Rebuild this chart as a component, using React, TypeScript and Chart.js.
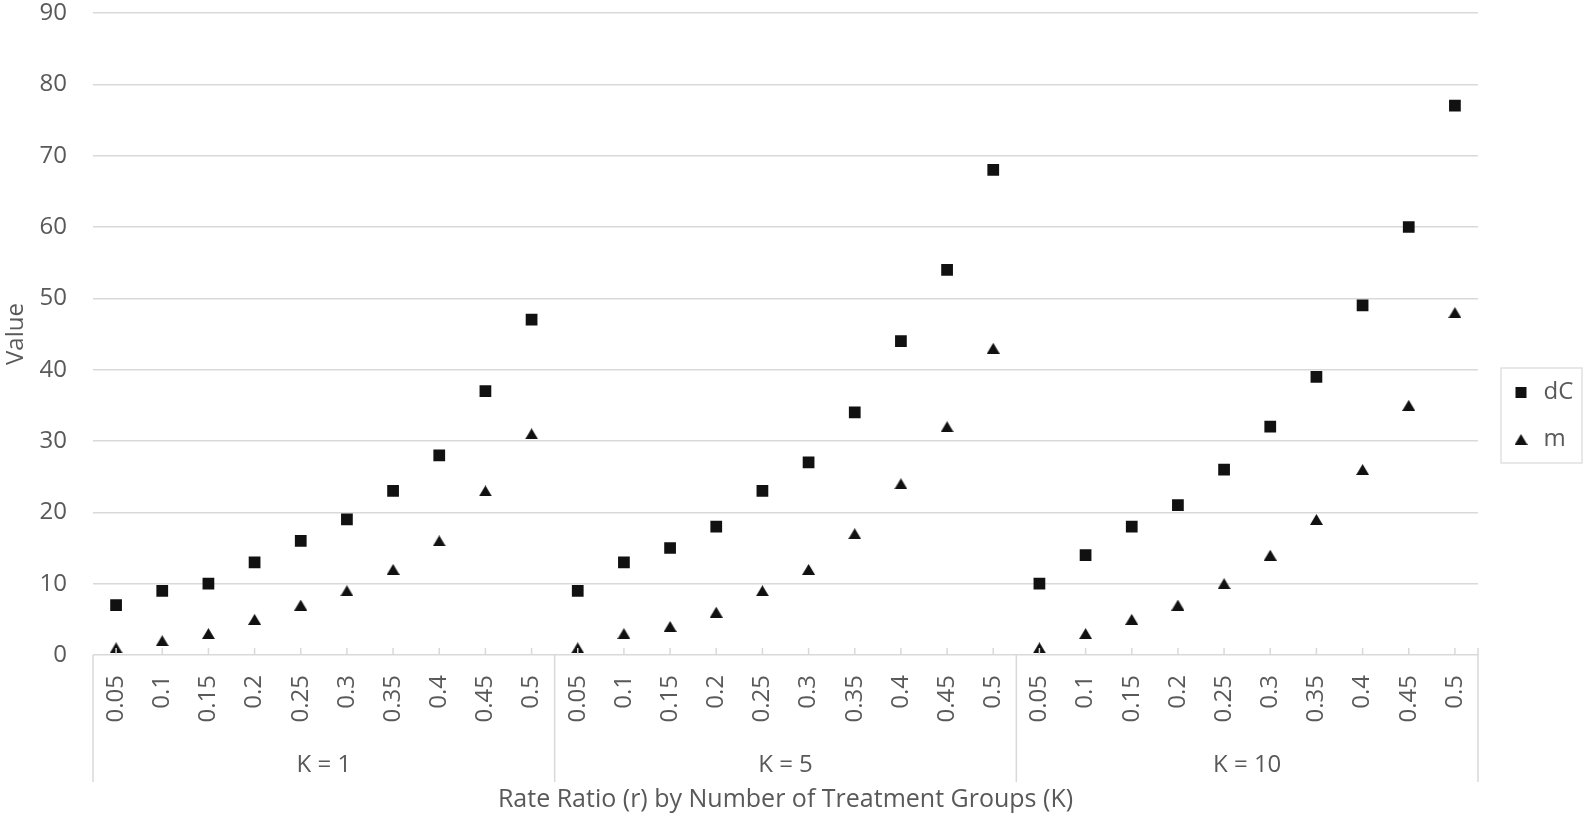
import React, { useEffect, useRef } from 'react';
import { Chart, registerables } from 'chart.js';

Chart.register(...registerables);

// ---- data ----
const rateRatios = ['0.05', '0.1', '0.15', '0.2', '0.25', '0.3', '0.35', '0.4', '0.45', '0.5'];
const groups = ['K = 1', 'K = 5', 'K = 10'];
const dC_K1 = [7, 9, 10, 13, 16, 19, 23, 28, 37, 47];
const dC_K5 = [9, 13, 15, 18, 23, 27, 34, 44, 54, 68];
const dC_K10 = [10, 14, 18, 21, 26, 32, 39, 49, 60, 77];
const m_K1 = [1, 2, 3, 5, 7, 9, 12, 16, 23, 31];
const m_K5 = [1, 3, 4, 6, 9, 12, 17, 24, 32, 43];
const m_K10 = [1, 3, 5, 7, 10, 14, 19, 26, 35, 48];
const seriesNames = ['dC', 'm'];
const yMin = 0;
const yMax = 90;
const yStep = 10;
const xTitle = 'Rate Ratio (r) by Number of Treatment Groups (K)';
const yTitle = 'Value';

// ---- styles ----
const W = 1585;
const H = 821;
const FONT = "'Open Sans', sans-serif";
const FS = 24;
const TEXT = '#595959';
const GRID = '#d9d9d9';
const MARK = '#111111';
const LEG_PAD = 23;
const LEG_BOXW = 21;
const LEG_BOXH = 11;

function makeTriangle(w: number, h: number) {
  const c = document.createElement('canvas');
  c.width = w;
  c.height = h;
  const g = c.getContext('2d')!;
  g.fillStyle = MARK;
  g.beginPath();
  g.moveTo(w / 2, 0);
  g.lineTo(w, h);
  g.lineTo(0, h);
  g.closePath();
  g.fill();
  return c;
}

export default function App() {
  const ref = useRef<HTMLCanvasElement | null>(null);

  useEffect(() => {
    document.body.style.margin = '0';
    document.body.style.overflow = 'hidden';
    const canvas = ref.current;
    if (!canvas) return;

    const mctx = document.createElement('canvas').getContext('2d')!;
    mctx.font = `${FS}px ${FONT}`;
    const tw = Math.max(...seriesNames.map((s) => mctx.measureText(s).width));
    const legendW = LEG_PAD + LEG_BOXW + FS / 2 + tw + 10;
    const legendLeft = 1487.5;
    const padRight = W - legendLeft - legendW;

    const labels = groups.flatMap(() => rateRatios);
    const dC = [...dC_K1, ...dC_K5, ...dC_K10];
    const m = [...m_K1, ...m_K5, ...m_K10];
    const tri = makeTriangle(13, 11);

    const decor = {
      id: 'decor',
      afterDraw(chart: any) {
        const { ctx, chartArea } = chart;
        const x = chart.scales.x;
        const x2 = chart.scales.x2;
        const bottom = chartArea.bottom;
        ctx.save();
        ctx.strokeStyle = GRID;
        ctx.lineWidth = 1.5;
        const line = (a: number, b: number, c: number, d: number) => {
          ctx.beginPath();
          ctx.moveTo(a, b);
          ctx.lineTo(c, d);
          ctx.stroke();
        };
        for (let i = 0; i < labels.length; i++) {
          const px = x.getPixelForValue(i);
          line(px, bottom, px, bottom - 7);
        }
        const sepBottom = x2.top + 37;
        for (let g = 0; g <= groups.length; g++) {
          const px = x.getPixelForValue(g * rateRatios.length - 0.5);
          const top = g === groups.length ? bottom - 7 : bottom;
          line(px, top, px, sepBottom);
        }
        // legend frame
        const lg = chart.legend;
        if (lg) {
          const colH = seriesNames.length * (FS + LEG_PAD);
          const y0 = (lg.top + LEG_PAD + lg.bottom - colH) / 2;
          const c0 = y0 + FS / 2;
          const cN = c0 + (seriesNames.length - 1) * (FS + LEG_PAD);
          const left = lg.left + LEG_PAD + LEG_BOXW / 2 - 20;
          const right = chart.width - 3;
          ctx.lineWidth = 1.2;
          ctx.strokeRect(left, c0 - 24.5, right - left, cN - c0 + 48);
        }
        ctx.restore();
      },
    };

    const chart = new Chart(canvas, {
      type: 'line',
      data: {
        labels,
        datasets: [
          {
            label: seriesNames[0],
            data: dC,
            showLine: false,
            pointStyle: 'rect',
            pointRadius: 8.3,
            pointHoverRadius: 8.3,
            backgroundColor: MARK,
            borderColor: MARK,
            pointBorderWidth: 0,
            borderWidth: 0,
            xAxisID: 'x',
            yAxisID: 'y',
          },
          {
            label: seriesNames[1],
            data: m,
            showLine: false,
            pointStyle: tri,
            pointRadius: 7.6,
            pointHoverRadius: 7.6,
            backgroundColor: MARK,
            borderColor: MARK,
            pointBorderWidth: 0,
            borderWidth: 0,
            xAxisID: 'x',
            yAxisID: 'y',
          },
        ],
      },
      options: {
        animation: false,
        responsive: false,
        events: [],
        layout: { padding: { top: 13, bottom: 2, left: 0, right: padRight } },
        font: { family: FONT },
        plugins: {
          tooltip: { enabled: false },
          legend: {
            position: 'right',
            labels: {
              usePointStyle: true,
              boxWidth: LEG_BOXW,
              boxHeight: LEG_BOXH,
              padding: LEG_PAD,
              color: TEXT,
              font: { family: FONT, size: FS },
            },
          },
        },
        scales: {
          x: {
            type: 'category',
            position: 'bottom',
            weight: 0,
            offset: true,
            grid: { display: false, drawTicks: false, offset: true },
            border: { display: false },
            ticks: {
              autoSkip: false,
              minRotation: 90,
              maxRotation: 90,
              padding: 20,
              color: TEXT,
              font: { family: FONT, size: FS },
            },
            afterFit: (s: any) => {
              s.height = 90;
            },
          },
          x2: {
            type: 'category',
            position: 'bottom',
            weight: 1,
            labels: groups,
            offset: true,
            grid: { display: false, drawTicks: false },
            border: { display: false },
            ticks: {
              padding: 5.6,
              color: TEXT,
              font: { family: FONT, size: FS },
            },
            title: {
              display: true,
              text: xTitle,
              color: TEXT,
              font: { family: FONT, size: 25 },
              padding: { top: 0, bottom: 4 },
            },
            afterFit: (s: any) => {
              s.height = 74;
            },
          },
          y: {
            type: 'linear',
            position: 'left',
            min: yMin,
            max: yMax,
            grid: {
              color: GRID,
              lineWidth: 1.5,
              drawTicks: true,
              tickLength: 26,
              tickColor: 'rgba(0,0,0,0)',
            },
            border: { display: false },
            ticks: {
              stepSize: yStep,
              padding: 0,
              color: TEXT,
              font: { family: FONT, size: FS, lineHeight: 1 },
            },
            title: {
              display: true,
              text: yTitle,
              color: TEXT,
              font: { family: FONT, size: FS },
              padding: { top: 2, bottom: 0 },
            },
            afterFit: (s: any) => {
              s.width = 93;
            },
          },
          yR: {
            type: 'linear',
            position: 'right',
            display: true,
            grid: { display: false, drawTicks: false },
            border: { display: false },
            ticks: { display: false },
            afterFit: (s: any) => {
              s.width = 9.5;
            },
          },
        },
      } as any,
      plugins: [decor],
    });

    return () => {
      chart.destroy();
    };
  }, []);

  return (
    <div style={{ width: W, height: H, position: 'relative' }}>
      <canvas ref={ref} width={W} height={H} style={{ display: 'block' }} />
    </div>
  );
}
